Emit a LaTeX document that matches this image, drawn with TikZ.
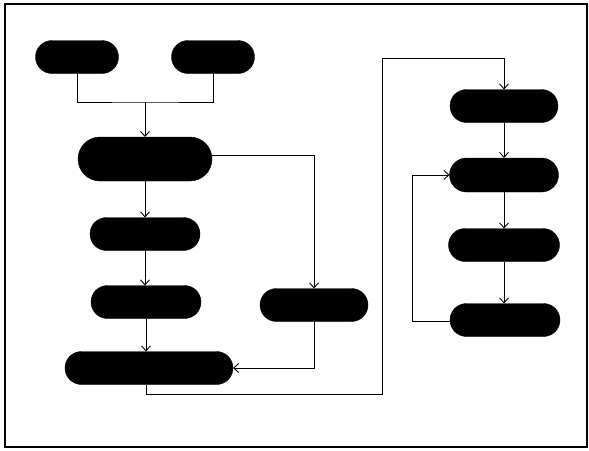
\documentclass[tikz,border=0pt]{standalone}
\usetikzlibrary{shapes.misc,arrows.meta}
\begin{document}
\begin{tikzpicture}[x=1pt,y=-1pt,
  blk/.style={rounded rectangle, fill=black, draw=black, inner sep=0pt, outer sep=0pt, minimum height=33pt},
  conn/.style={line width=0.9pt, black},
  arr/.style={conn, -{Straight Barb[length=5pt,width=9pt,line width=0.9pt]}}]
\useasboundingbox (0,0) rectangle (589,450);
\draw[line width=1.6pt] (5,4) rectangle (587,447);
% nodes
\node[blk, minimum width=83pt] (a) at (77,57) {};
\node[blk, minimum width=83pt] (b) at (213,57) {};
\node[blk, minimum width=134pt, minimum height=44pt] (c) at (145,159) {};
\node[blk, minimum width=110pt] (d) at (145,234) {};
\node[blk, minimum width=110pt] (e) at (146,302) {};
\node[blk, minimum width=168pt] (g) at (149,368) {};
\node[blk, minimum width=108pt] (f) at (314,305) {};
\node[blk, minimum width=108pt] (h) at (504,106) {};
\node[blk, minimum width=109pt, minimum height=34pt] (i) at (504,175) {};
\node[blk, minimum width=111pt] (j) at (504,245) {};
\node[blk, minimum width=110pt] (k) at (505,320) {};
% coordinates
\coordinate (m) at (145,102);
\coordinate (g1) at (146,394);
\coordinate (g2) at (382,394);
\coordinate (g3) at (382,58);
\coordinate (lp) at (412,321);
% connectors
\draw[conn] (a.south) |- (m) -| (b.south);
\draw[arr] (m) -- (c.north);
\draw[arr] (c.south) -- (d.north);
\draw[arr] (d.south) -- (d.south |- e.north);
\draw[arr] (e.south) -- (e.south |- g.north);
\draw[arr] (c.east |- 0,155) -| (f.north);
\draw[arr] (f.south) |- (g.east);
\draw[conn] (g.south -| g1) -- (g1) -- (g2) -- (g3);
\draw[arr] (g3) -| (h.north);
\draw[arr] (h.south) -- (i.north);
\draw[arr] (i.south) -- (i.south |- j.north);
\draw[arr] (j.south) -- (j.south |- k.north);
\draw[conn] (k.west |- lp) -- (lp);
\draw[arr] (lp) |- (i.west);
\end{tikzpicture}
\end{document}
